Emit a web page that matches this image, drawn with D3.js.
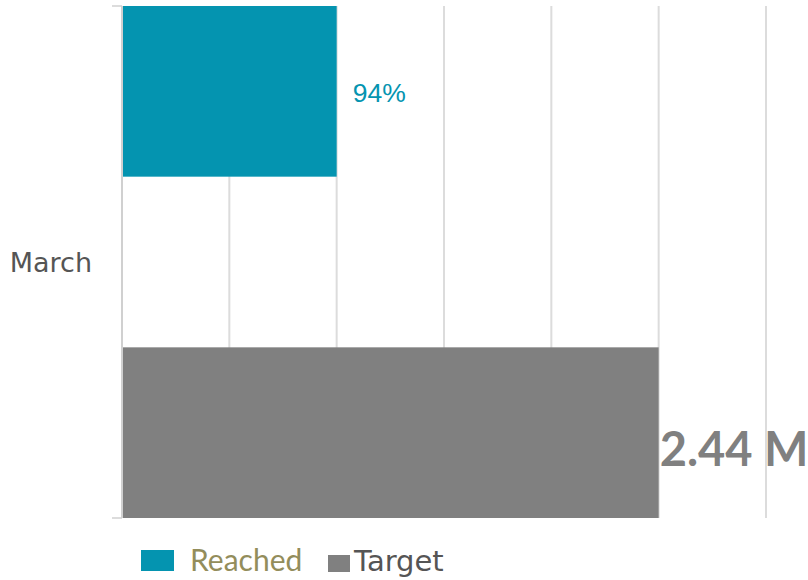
<!DOCTYPE html>
<html>
<head>
<meta charset="utf-8">
<script src="https://cdn.jsdelivr.net/npm/d3@7/dist/d3.min.js"></script>
<style>
  html, body { margin: 0; padding: 0; background: #fff; }
  svg { display: block; }
</style>
</head>
<body>
<svg id="chart" width="808" height="580"></svg>
<script>
// ---- data ----
const categories = ["March"];
const seriesNames = ["Reached", "Target"];
const reachedValues = [1.0];   // millions (bar length as drawn)
const targetValues = [2.5];    // millions (bar length as drawn)
const reachedLabels = ["94%"];
const targetLabels = ["2.44 M"];
const xTicks = [0, 0.5, 1, 1.5, 2, 2.5, 3];
const seriesColors = ["#0494b0", "#808080"];

// ---- layout ----
const W = 808, H = 580;
const margin = { top: 6, right: 42, bottom: 62, left: 122 };
const svg = d3.select("#chart");

const x = d3.scaleLinear().domain([0, 3]).range([margin.left, W - margin.right]);
const y = d3.scaleBand().domain(categories).range([margin.top, H - margin.bottom]).padding(0);
const ySub = d3.scaleBand().domain(seriesNames).range([0, y.bandwidth()]).paddingInner(0.5).paddingOuter(0);

// gridlines
svg.append("g")
  .selectAll("line")
  .data(xTicks)
  .join("line")
  .attr("x1", d => x(d)).attr("x2", d => x(d))
  .attr("y1", margin.top).attr("y2", H - margin.bottom)
  .attr("stroke", "#dcdcdc")
  .attr("stroke-width", 2);

// category boundary ticks
const edges = [margin.top, H - margin.bottom];
svg.append("g")
  .selectAll("line")
  .data(edges)
  .join("line")
  .attr("x1", margin.left - 10).attr("x2", margin.left)
  .attr("y1", d => d).attr("y2", d => d)
  .attr("stroke", "#dcdcdc")
  .attr("stroke-width", 2);

// bars
const rows = categories.map((c, i) => ({
  cat: c,
  vals: [
    { s: "Reached", v: reachedValues[i], label: reachedLabels[i] },
    { s: "Target", v: targetValues[i], label: targetLabels[i] }
  ]
}));

const g = svg.append("g");
rows.forEach(r => {
  const y0 = y(r.cat);
  r.vals.forEach((d, j) => {
    g.append("rect")
      .attr("x", x(0))
      .attr("y", y0 + ySub(d.s))
      .attr("width", x(d.v) - x(0))
      .attr("height", ySub.bandwidth())
      .attr("fill", seriesColors[j]);
  });
  // reached label
  const rd = r.vals[0];
  g.append("text")
    .attr("x", x(rd.v) + 16)
    .attr("y", y0 + ySub(rd.s) + ySub.bandwidth() / 2 + 11)
    .attr("font-family", "'Liberation Sans', Arial, sans-serif")
    .attr("font-size", 26.5)
    .attr("fill", seriesColors[0])
    .text(rd.label);
  // target label
  const td = r.vals[1];
  g.append("text")
    .attr("x", x(td.v) + 1)
    .attr("y", y0 + ySub(td.s) + ySub.bandwidth() / 2 + 33)
    .attr("font-family", "Lato, sans-serif")
    .attr("font-weight", "bold")
    .attr("font-size", 47)
    .attr("fill", "#808080")
    .text(td.label);
});

// axis line
svg.append("line")
  .attr("x1", margin.left).attr("x2", margin.left)
  .attr("y1", margin.top).attr("y2", H - margin.bottom)
  .attr("stroke", "#d0d0d0")
  .attr("stroke-width", 2);

// category labels
svg.append("g")
  .selectAll("text")
  .data(categories)
  .join("text")
  .attr("x", margin.left - 30)
  .attr("y", d => y(d) + y.bandwidth() / 2 + 10)
  .attr("text-anchor", "end")
  .attr("font-family", "'DejaVu Sans', sans-serif")
  .attr("font-size", 27)
  .attr("fill", "#555")
  .text(d => d);

// legend
const legend = [
  { name: seriesNames[0], color: seriesColors[0], text: "#938d5b", rx: 141, rw: 33, rh: 21, ry: 550, tx: 190, font: "Lato, sans-serif", fs: 30 },
  { name: seriesNames[1], color: seriesColors[1], text: "#555555", rx: 328, rw: 22, rh: 17, ry: 555, tx: 354, font: "'DejaVu Sans', sans-serif", fs: 29 }
];
const lg = svg.append("g");
legend.forEach(l => {
  lg.append("rect").attr("x", l.rx).attr("y", l.ry).attr("width", l.rw).attr("height", l.rh).attr("fill", l.color);
  lg.append("text")
    .attr("x", l.tx).attr("y", 571)
    .attr("font-family", l.font)
    .attr("font-size", l.fs)
    .attr("fill", l.text)
    .text(l.name);
});
</script>
</body>
</html>
